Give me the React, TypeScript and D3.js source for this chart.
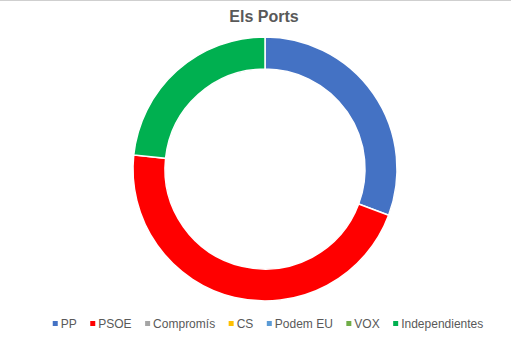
import React, { useEffect, useRef } from "react";
import * as d3 from "d3";

const title = "Els Ports";
const parties = ["PP", "PSOE", "Compromís", "CS", "Podem EU", "VOX", "Independientes"];
const shares = [30.7, 46.0, 0, 0, 0, 0, 23.3];
const colors = ["#4472C4", "#FF0000", "#A5A5A5", "#FFC000", "#5B9BD5", "#70AD47", "#00B050"];

const W = 511;
const H = 339;

export default function App() {
  const ref = useRef<SVGSVGElement | null>(null);

  useEffect(() => {
    const svg = d3.select(ref.current);
    svg.selectAll("*").remove();

    svg.append("rect").attr("x", 0).attr("y", 0).attr("width", W).attr("height", H).attr("fill", "#fff");
    svg.append("line").attr("x1", 0).attr("x2", W).attr("y1", 0.5).attr("y2", 0.5).attr("stroke", "#cfcfcf").attr("stroke-width", 1);

    svg.append("text")
      .attr("x", 264)
      .attr("y", 22)
      .attr("text-anchor", "middle")
      .attr("font-family", "Liberation Sans, Arial, sans-serif")
      .attr("font-weight", "bold")
      .attr("font-size", 16)
      .attr("fill", "#595959")
      .text(title);

    const cx = 265, cy = 169, outerR = 132, innerR = 100;
    const data = parties.map((p, i) => ({ p, v: shares[i], c: colors[i] }));
    const pie = d3.pie<any>().value((d) => d.v).sort(null);
    const arc = d3.arc<any>().innerRadius(innerR).outerRadius(outerR);
    const g = svg.append("g").attr("transform", `translate(${cx},${cy})`);
    g.selectAll("path")
      .data(pie(data).filter((d) => d.data.v > 0))
      .enter()
      .append("path")
      .attr("d", arc as any)
      .attr("fill", (d: any) => d.data.c)
      .attr("stroke", "#fff")
      .attr("stroke-width", 1.5);

    // legend
    const lg = svg.append("g");
    const items: { g: any; w: number }[] = [];
    parties.forEach((p, i) => {
      const it = lg.append("g");
      it.append("rect").attr("x", 0).attr("y", -6.5).attr("width", 5).attr("height", 5).attr("fill", colors[i]);
      const t = it.append("text")
        .attr("x", 8)
        .attr("y", 0)
        .attr("font-family", "Liberation Sans, Arial, sans-serif")
        .attr("font-size", 12)
        .attr("fill", "#595959")
        .text(p);
      const tw = (t.node() as SVGTextElement).getComputedTextLength();
      items.push({ g: it, w: 8 + tw });
    });
    const gap = 13.5;
    const total = items.reduce((s, d) => s + d.w, 0) + gap * (items.length - 1);
    let x = 268 - total / 2;
    items.forEach((d) => {
      d.g.attr("transform", `translate(${x},327.5)`);
      x += d.w + gap;
    });
  }, []);

  return (
    <svg ref={ref} width={W} height={H} style={{ position: "absolute", left: 0, top: 0, display: "block" }} />
  );
}
